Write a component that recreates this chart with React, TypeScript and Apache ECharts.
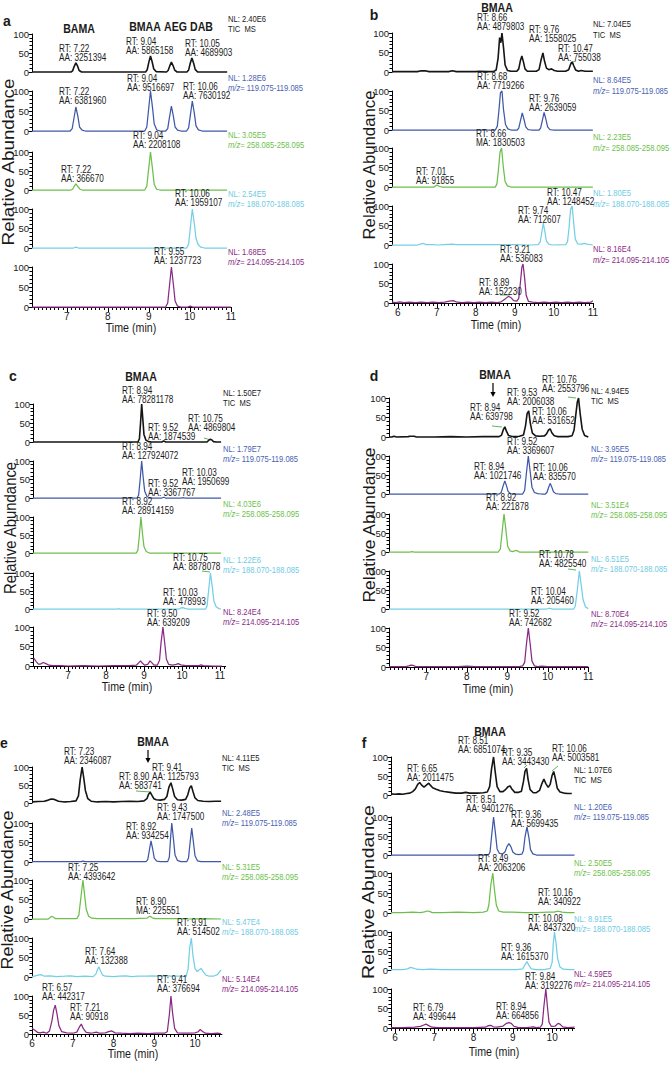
import React, { useEffect, useRef } from "react";
import * as echarts from "echarts";

// ---------------- data ----------------
const MZ = ["TIC  MS", "119.075-119.085", "258.085-258.095", "188.070-188.085", "214.095-214.105"];

// Panel a
const A_COMPOUNDS = ["BAMA", "BMAA", "AEG", "DAB"];
const A_NL = ["2.40E6", "1.28E6", "3.05E5", "2.54E5", "1.68E5"];
const A_XTICKS = [7, 8, 9, 10, 11];
const A_TIC = [[6.15,0],[7.1,0],[7.14,3],[7.18,15],[7.22,24],[7.26,16],[7.3,4],[7.36,0],[8.92,0],[8.96,6],[9.0,26],[9.04,42],[9.08,27],[9.12,8],[9.18,1],[9.43,0],[9.47,4],[9.51,16],[9.55,26],[9.59,17],[9.63,5],[9.69,0],[9.93,0],[9.97,5],[10.01,23],[10.05,37],[10.09,24],[10.13,7],[10.19,0],[10.91,0]];
const A_Q1 = [[6.15,0],[7.08,0],[7.13,6],[7.17,30],[7.22,60],[7.27,36],[7.31,10],[7.37,2],[7.45,0],[8.9,0],[8.95,10],[8.99,50],[9.04,100],[9.09,58],[9.13,18],[9.19,3],[9.27,0],[9.41,0],[9.46,6],[9.5,32],[9.55,62],[9.6,36],[9.64,10],[9.7,2],[9.78,0],[9.92,0],[9.97,8],[10.01,38],[10.06,75],[10.11,44],[10.15,13],[10.21,3],[10.3,0],[10.91,0]];
const A_Q2 = [[6.15,0],[7.1,0],[7.14,2],[7.18,10],[7.22,16],[7.27,9],[7.32,2],[7.38,0],[8.9,0],[8.95,10],[8.99,50],[9.04,100],[9.09,55],[9.13,15],[9.19,2],[9.27,0],[10.91,0]];
const A_Q3 = [[6.15,0],[7.16,0],[7.22,2],[7.28,0],[9.92,0],[9.97,10],[10.01,50],[10.06,100],[10.11,62],[10.15,25],[10.2,9],[10.27,2],[10.36,0],[10.91,0]];
const A_Q4 = [[6.15,0],[9.41,0],[9.46,10],[9.5,50],[9.55,100],[9.6,55],[9.64,15],[9.7,2],[9.78,0],[9.95,0],[10.01,2],[10.07,0],[11,0]];
const A_ANN = [
  [0,"7.22","AA","3251394"],[0,"9.04","AA","5865158"],[0,"10.05","AA","4689903"],
  [1,"9.04","AA","9516697"],[1,"7.22","AA","6381960"],[1,"10.06","AA","7630192"],
  [2,"9.04","AA","2208108"],[2,"7.22","AA","366670"],
  [3,"10.06","AA","1959107"],
  [4,"9.55","AA","1237723"],
];

// Panel b
const B_COMPOUNDS = ["BMAA"];
const B_NL = ["7.04E5", "8.64E5", "2.23E5", "1.80E5", "8.16E4"];
const B_XTICKS = [6, 7, 8, 9, 10, 11];
const B_TIC = [[5.85,1],[6.2,1],[6.5,1],[6.6,3],[6.7,3],[6.8,1],[7.3,1],[7.4,3],[7.5,1],[8.0,1],[8.1,2],[8.3,1],[8.45,1],[8.52,5],[8.57,35],[8.61,88],[8.64,75],[8.67,100],[8.71,62],[8.75,18],[8.81,4],[8.9,2],[9.05,2],[9.1,8],[9.14,28],[9.18,41],[9.22,26],[9.26,8],[9.32,2],[9.55,2],[9.62,6],[9.67,30],[9.72,49],[9.76,28],[9.81,10],[9.87,6],[9.94,8],[10.01,4],[10.1,2],[10.3,2],[10.38,6],[10.43,20],[10.47,26],[10.51,16],[10.56,5],[10.63,2],[10.7,4],[10.8,2],[11.0,2]];
const B_Q1 = [[5.85,0],[8.5,0],[8.55,10],[8.59,48],[8.63,95],[8.67,100],[8.71,52],[8.76,14],[8.82,3],[8.9,0],[9.06,0],[9.1,5],[9.14,22],[9.19,44],[9.24,25],[9.28,8],[9.34,1],[9.42,0],[9.62,0],[9.66,5],[9.7,22],[9.75,45],[9.8,26],[9.84,8],[9.9,1],[9.98,0],[11.0,0]];
const B_Q2 = [[5.85,0],[6.93,0],[6.97,3],[7.01,5],[7.06,2],[7.12,0],[8.5,0],[8.54,8],[8.58,45],[8.62,90],[8.66,100],[8.7,55],[8.75,14],[8.81,3],[8.9,0],[11,0]];
const B_Q3 = [[5.85,0],[6.5,0],[6.6,3],[6.66,4],[6.72,1],[6.9,1],[7.0,0],[7.2,1],[7.4,2],[7.5,1],[7.8,1],[8.2,1],[8.6,1],[9.0,1],[9.4,0],[9.6,1],[9.65,8],[9.69,32],[9.73,56],[9.77,34],[9.81,10],[9.87,2],[9.95,0],[10.3,1],[10.35,8],[10.39,45],[10.43,92],[10.47,100],[10.51,55],[10.55,15],[10.61,3],[10.7,2],[10.78,4],[10.85,2],[11.0,0]];
const B_Q4 = [[5.85,2],[5.95,1],[6.05,3],[6.15,1],[6.3,2],[6.45,1],[6.6,2],[6.75,1],[6.9,2],[7.05,1],[7.2,2],[7.32,5],[7.42,6],[7.52,2],[7.65,1],[7.8,2],[7.95,1],[8.1,2],[8.25,1],[8.4,2],[8.55,1],[8.65,3],[8.75,10],[8.83,17],[8.9,14],[8.97,6],[9.05,5],[9.1,12],[9.14,50],[9.18,92],[9.21,100],[9.25,65],[9.29,20],[9.35,4],[9.45,2],[9.6,1],[9.75,2],[9.9,1],[10.05,2],[10.2,1],[10.35,2],[10.5,1],[10.65,2],[10.8,1],[10.95,2],[11.0,6]];
const B_ANN = [
  [0,"8.66","AA","4879803"],[0,"9.76","AA","1558025"],[0,"10.47","AA","755038"],
  [1,"8.68","AA","7719266"],[1,"9.76","AA","2639059"],
  [2,"8.66","MA","1830503"],[2,"7.01","AA","91855"],
  [3,"10.47","AA","1248452"],[3,"9.74","AA","712607"],
  [4,"9.21","AA","536083"],[4,"8.89","AA","152230"],
];

// Panel c
const C_COMPOUNDS = ["BMAA"];
const C_NL = ["1.50E7", "1.79E7", "4.03E6", "1.22E6", "8.24E4"];
const C_XTICKS = [7, 8, 9, 10, 11];
const C_TIC = [[6.08,0],[8.84,0],[8.88,8],[8.91,50],[8.94,100],[8.97,60],[9.0,20],[9.05,5],[9.12,1],[9.2,0],[9.47,0],[9.52,3],[9.57,0],[10.66,0],[10.7,4],[10.74,7],[10.78,6],[10.83,1],[10.9,0],[11.03,0]];
const C_Q1 = [[6.08,0],[8.82,0],[8.86,8],[8.9,50],[8.94,100],[8.98,55],[9.02,18],[9.08,4],[9.16,0],[9.47,0],[9.52,2],[9.57,0],[9.98,0],[10.03,1],[10.08,0],[11.03,0]];
const C_Q2 = [[6.08,0],[8.8,0],[8.84,8],[8.88,50],[8.92,100],[8.96,55],[9.0,18],[9.06,4],[9.14,0],[11.03,0]];
const C_Q3 = [[6.08,0],[8.3,0],[8.33,1],[8.36,0],[9.92,0],[9.97,3],[10.02,4],[10.08,2],[10.15,0],[10.62,0],[10.66,8],[10.7,50],[10.75,100],[10.8,60],[10.84,22],[10.9,6],[10.97,1],[11.03,0]];
const C_Q4 = [[6.1,20],[6.16,12],[6.22,5],[6.28,5],[6.35,9],[6.42,6],[6.5,2],[6.6,1],[6.8,1],[7.0,0],[7.4,1],[7.8,0],[8.2,1],[8.6,1],[8.8,2],[8.86,8],[8.91,13],[8.96,7],[9.02,2],[9.1,4],[9.16,13],[9.21,8],[9.27,2],[9.35,2],[9.41,15],[9.45,60],[9.5,100],[9.55,55],[9.59,18],[9.65,4],[9.75,2],[9.85,4],[9.9,6],[9.97,3],[10.1,1],[10.3,1],[10.45,1],[10.5,3],[10.56,1],[10.8,0],[11.05,0]];
const C_ANN = [
  [0,"8.94","AA","78281178"],[0,"9.52","AA","1874539"],[0,"10.75","AA","4869804"],
  [1,"8.94","AA","127924072"],[1,"10.03","AA","1950699"],[1,"9.52","AA","3367767"],
  [2,"8.92","AA","28914159"],
  [3,"10.75","AA","8878078"],[3,"10.03","AA","478993"],
  [4,"9.50","AA","639209"],
];

// Panel d
const D_COMPOUNDS = ["BMAA"];
const D_NL = ["4.94E5", "3.95E5", "3.51E4", "6.51E5", "8.70E4"];
const D_XTICKS = [7, 8, 9, 10, 11];
const D_TIC = [[6.08,0],[6.15,0],[6.2,2],[6.27,0],[6.55,1],[6.6,2],[6.7,2],[6.76,0],[7.2,0],[7.6,1],[8.0,0],[8.4,1],[8.8,1],[8.86,5],[8.9,18],[8.94,26],[8.98,15],[9.03,4],[9.1,2],[9.2,1],[9.3,2],[9.4,5],[9.45,28],[9.49,60],[9.53,67],[9.57,35],[9.62,10],[9.7,3],[9.8,2],[9.92,3],[9.97,8],[10.02,18],[10.06,21],[10.1,11],[10.16,3],[10.25,1],[10.5,1],[10.6,3],[10.65,18],[10.69,55],[10.73,90],[10.76,100],[10.8,60],[10.85,20],[10.91,4],[11.0,0]];
const D_Q1 = [[6.08,0],[8.8,0],[8.85,4],[8.9,22],[8.94,34],[8.98,22],[9.02,7],[9.08,1],[9.16,0],[9.38,0],[9.43,10],[9.47,52],[9.52,100],[9.57,55],[9.61,18],[9.67,4],[9.75,1],[9.85,0],[9.94,0],[9.98,4],[10.02,17],[10.06,28],[10.1,18],[10.14,6],[10.2,1],[10.28,0],[11.0,0]];
const D_Q2 = [[6.08,0],[6.6,0],[6.65,1],[6.7,0],[8.78,0],[8.83,8],[8.87,50],[8.92,100],[8.97,55],[9.01,15],[9.07,3],[9.14,1],[9.2,4],[9.25,3],[9.3,0],[11.0,0]];
const D_Q3 = [[6.08,0],[9.97,0],[10.03,2],[10.08,1],[10.12,0],[10.64,0],[10.68,8],[10.73,50],[10.78,100],[10.83,60],[10.87,25],[10.93,6],[11.0,1]];
const D_Q4 = [[6.08,1],[6.3,1],[6.5,1],[6.57,3],[6.62,5],[6.68,4],[6.74,1],[6.9,1],[7.2,1],[7.5,1],[7.8,1],[8.0,2],[8.2,1],[8.5,1],[8.8,1],[9.1,1],[9.3,1],[9.38,3],[9.43,12],[9.47,55],[9.52,100],[9.57,55],[9.61,15],[9.67,3],[9.75,1],[9.85,2],[10.0,1],[10.3,1],[10.6,1],[11.0,1]];
const D_ANN = [
  [0,"8.94","AA","639798"],[0,"9.53","AA","2006038"],[0,"10.06","AA","531652"],[0,"10.76","AA","2553796"],
  [1,"9.52","AA","3369607"],[1,"8.94","AA","1021746"],[1,"10.06","AA","835570"],
  [2,"8.92","AA","221878"],
  [3,"10.78","AA","4825540"],[3,"10.04","AA","205460"],
  [4,"9.52","AA","742682"],
];

// Panel e
const E_COMPOUNDS = ["BMAA"];
const E_NL = ["4.11E5", "2.48E5", "5.31E5", "5.47E4", "5.14E4"];
const E_XTICKS = [6, 7, 8, 9, 10];
const E_TIC = [[6.0,3],[6.15,4],[6.3,5],[6.4,8],[6.47,11],[6.55,10],[6.65,5],[6.8,3],[6.95,4],[7.08,6],[7.14,20],[7.18,62],[7.23,100],[7.27,70],[7.31,35],[7.37,12],[7.45,5],[7.6,3],[7.8,4],[8.0,3],[8.2,4],[8.4,5],[8.6,4],[8.75,6],[8.82,12],[8.86,24],[8.9,30],[8.94,22],[8.99,12],[9.05,9],[9.15,8],[9.25,10],[9.31,18],[9.36,44],[9.41,56],[9.45,40],[9.5,18],[9.57,9],[9.67,8],[9.77,10],[9.82,22],[9.87,42],[9.91,48],[9.95,32],[10.0,14],[10.07,7],[10.2,5],[10.35,4],[10.5,5],[10.64,5]];
const E_Q1 = [[6.0,1],[7.2,1],[7.25,2],[7.3,1],[8.8,1],[8.84,6],[8.88,30],[8.92,54],[8.96,34],[9.0,10],[9.06,2],[9.15,1],[9.33,1],[9.37,12],[9.4,60],[9.43,100],[9.47,60],[9.51,18],[9.57,4],[9.65,1],[9.8,1],[9.84,10],[9.88,50],[9.92,87],[9.96,52],[10.0,16],[10.06,3],[10.15,1],[10.64,1]];
const E_Q2 = [[6.0,0],[6.4,0],[6.44,3],[6.48,7],[6.52,5],[6.58,1],[6.8,1],[7.1,1],[7.15,10],[7.2,55],[7.25,100],[7.29,62],[7.33,25],[7.39,7],[7.47,2],[7.6,1],[8.0,1],[8.5,1],[8.82,2],[8.87,6],[8.9,7],[8.95,3],[9.02,1],[9.5,1],[9.8,0],[10.2,1],[10.64,0]];
const E_Q3 = [[6.0,1],[6.08,3],[6.15,5],[6.22,6],[6.3,2],[6.45,3],[6.6,1],[6.8,2],[6.95,3],[7.1,1],[7.3,2],[7.5,1],[7.57,8],[7.61,20],[7.64,26],[7.68,16],[7.73,5],[7.8,2],[8.0,1],[8.15,2],[8.3,3],[8.45,1],[8.6,2],[8.8,2],[8.95,3],[9.1,2],[9.3,3],[9.5,2],[9.65,2],[9.78,1],[9.83,20],[9.87,75],[9.91,100],[9.95,55],[10.0,22],[10.05,14],[10.1,18],[10.15,22],[10.2,14],[10.27,5],[10.35,2],[10.45,2],[10.55,6],[10.64,18]];
const E_Q4 = [[6.0,15],[6.07,10],[6.14,4],[6.2,3],[6.28,5],[6.36,2],[6.43,8],[6.49,35],[6.53,62],[6.57,76],[6.61,55],[6.66,22],[6.73,6],[6.85,3],[7.0,2],[7.1,5],[7.16,18],[7.21,26],[7.26,14],[7.33,4],[7.45,2],[7.58,5],[7.66,2],[7.8,3],[7.9,7],[7.96,8],[8.04,3],[8.2,2],[8.4,1],[8.6,2],[8.85,1],[9.05,2],[9.25,2],[9.32,6],[9.37,50],[9.41,100],[9.45,55],[9.5,15],[9.57,3],[9.7,2],[9.85,2],[10.0,3],[10.08,6],[10.13,12],[10.18,7],[10.25,2],[10.4,1],[10.55,2],[10.64,1]];
const E_ANN = [
  [0,"7.23","AA","2346087"],[0,"9.41","AA","1125793"],[0,"8.90","AA","583741"],
  [1,"9.43","AA","1747500"],[1,"8.92","AA","934254"],
  [2,"7.25","AA","4393642"],[2,"8.90","MA","225551"],
  [3,"9.91","AA","514502"],[3,"7.64","AA","132388"],
  [4,"9.41","AA","376694"],[4,"6.57","AA","442317"],[4,"7.21","AA","90918"],
];

// Panel f
const F_COMPOUNDS = ["BMAA"];
const F_NL = ["1.07E6", "1.20E6", "2.50E5", "8.91E5", "4.59E5"];
const F_XTICKS = [6, 7, 8, 9, 10];
const F_TIC = [[5.9,3],[6.0,2],[6.1,3],[6.2,2],[6.3,4],[6.38,5],[6.45,9],[6.52,16],[6.58,28],[6.63,33],[6.68,26],[6.74,21],[6.8,26],[6.86,31],[6.9,26],[6.96,19],[7.05,15],[7.15,11],[7.25,9],[7.4,7],[7.55,5],[7.7,5],[7.8,7],[7.9,5],[8.1,5],[8.25,6],[8.35,8],[8.41,22],[8.46,70],[8.51,100],[8.55,62],[8.6,22],[8.67,9],[8.75,9],[8.82,15],[8.88,22],[8.93,24],[8.98,15],[9.05,7],[9.15,7],[9.22,10],[9.27,35],[9.31,62],[9.35,70],[9.39,40],[9.44,14],[9.52,6],[9.6,6],[9.68,12],[9.74,30],[9.79,42],[9.84,30],[9.9,20],[9.95,28],[10.0,52],[10.04,62],[10.08,45],[10.13,18],[10.2,8],[10.3,5],[10.4,4],[10.5,4]];
const F_Q1 = [[5.9,0],[8.38,0],[8.42,8],[8.46,50],[8.51,100],[8.56,55],[8.6,16],[8.66,4],[8.74,3],[8.8,8],[8.85,22],[8.9,30],[8.95,22],[9.0,8],[9.07,2],[9.15,1],[9.23,2],[9.27,12],[9.31,48],[9.36,74],[9.41,45],[9.45,14],[9.51,3],[9.6,0],[10.57,0]];
const F_Q2 = [[5.9,1],[6.2,1],[6.45,2],[6.65,1],[6.75,3],[6.82,5],[6.88,4],[6.95,1],[7.2,1],[7.6,2],[8.0,1],[8.25,2],[8.35,5],[8.39,20],[8.44,70],[8.49,100],[8.53,60],[8.58,20],[8.64,5],[8.75,2],[9.0,2],[9.3,1],[9.6,1],[9.9,2],[10.05,2],[10.12,4],[10.18,4],[10.25,2],[10.4,1],[10.57,1]];
const F_Q3 = [[5.9,1],[6.2,1],[6.32,3],[6.4,7],[6.47,5],[6.55,2],[6.7,1],[6.9,2],[7.2,1],[7.6,1],[8.0,1],[8.4,1],[8.8,1],[9.1,1],[9.25,3],[9.3,12],[9.36,22],[9.41,12],[9.47,3],[9.6,1],[9.8,1],[9.95,4],[10.0,20],[10.03,70],[10.06,100],[10.1,70],[10.14,30],[10.2,8],[10.28,2],[10.45,1],[10.57,1]];
const F_Q4 = [[5.9,1],[6.2,1],[6.5,2],[6.65,4],[6.72,7],[6.79,10],[6.86,6],[6.94,2],[7.1,1],[7.5,1],[8.0,1],[8.3,2],[8.38,6],[8.44,7],[8.5,3],[8.6,2],[8.75,5],[8.84,12],[8.9,14],[8.96,12],[9.03,4],[9.15,1],[9.35,1],[9.45,2],[9.52,3],[9.6,1],[9.7,2],[9.75,10],[9.79,55],[9.84,100],[9.88,55],[9.92,15],[9.98,4],[10.08,5],[10.15,12],[10.2,10],[10.27,3],[10.4,1],[10.57,2]];
const F_ANN = [
  [0,"8.51","AA","6851074"],[0,"9.35","AA","3443430"],[0,"10.06","AA","5003581"],[0,"6.65","AA","2011475"],
  [1,"8.51","AA","9401276"],[1,"9.36","AA","5699435"],
  [2,"8.49","AA","2063206"],[2,"10.16","AA","340922"],
  [3,"10.08","AA","8437320"],[3,"9.36","AA","1615370"],
  [4,"9.84","AA","3192276"],[4,"6.79","AA","499644"],[4,"8.94","AA","664856"],
];

// ---------------- layout & style ----------------
const FONT = "'Liberation Sans', Arial, Helvetica, sans-serif";
const COLORS = ["#151515", "#3f58a8", "#6cbf4b", "#74cfe6", "#8a2a85"];
const NL_COLORS = ["#1a1a1a", "#4a62b3", "#6cbf4b", "#6fcbe3", "#8a2a85"];
const LEADER = "#5cb85c";

const PANELS: any[] = [
  { letter: "a", traces: [A_TIC, A_Q1, A_Q2, A_Q3, A_Q4], nl: A_NL, ann: A_ANN, xTicks: A_XTICKS, compounds: A_COMPOUNDS,
    xMin: 6.15, xMax: 11, left: 32, ppm: 41,
    rows: [[34,72],[91,131],[152,190],[209,248],[267,307]],
    nlX: 228, nlY: [19,78,135,194,252], nlDy: 10,
    annPos: [[59,49],[126,42],[185,44],[127,79],[59,92],[183,87],[133,136],[61,170],[175,194],[154,252]],
    letterPos: [7,21], compPos: [[79,29],[145,27],[175.5,27],[201.5,27]], timePos: [131,328], ylab: [8,162,168],
    leaders: [], arrow: null },
  { letter: "b", traces: [B_TIC, B_Q1, B_Q2, B_Q3, B_Q4], nl: B_NL, ann: B_ANN, xTicks: B_XTICKS, compounds: B_COMPOUNDS,
    xMin: 5.85, xMax: 11, left: 392, ppm: 39,
    rows: [[33,72],[91,130],[148,187],[206,245],[264,303]],
    nlX: 593, nlY: [24,80,137,193,249], nlDy: 10.5,
    annPos: [[477,18],[529,30],[558,49],[477,77],[529,99],[476,134],[416,172],[547,193],[518,211],[500,250],[479,283]],
    letterPos: [374,15], compPos: [[497,8]], timePos: [496,325], ylab: [369,165,150],
    leaders: [[570,63,576,61],[500,295,510,295]], arrow: null },
  { letter: "c", traces: [C_TIC, C_Q1, C_Q2, C_Q3, C_Q4], nl: C_NL, ann: C_ANN, xTicks: C_XTICKS, compounds: C_COMPOUNDS,
    xMin: 6.08, xMax: 11.15, left: 33, ppm: 38,
    rows: [[404,442],[461,498],[517,553],[573,609],[627,666]],
    nlX: 223, nlY: [393,449,504,560,612], nlDy: 9.5,
    annPos: [[122,391],[148,428],[188,419],[122,447],[182,473],[148,484],[122,502],[173,558],[163,593],[147,614]],
    letterPos: [13,376], compPos: [[141,377]], timePos: [127,687], ylab: [10,528,133],
    leaders: [[204,438,211,440],[202,571,210,572]], arrow: null },
  { letter: "d", traces: [D_TIC, D_Q1, D_Q2, D_Q3, D_Q4], nl: D_NL, ann: D_ANN, xTicks: D_XTICKS, compounds: D_COMPOUNDS,
    xMin: 6.08, xMax: 11, left: 389, ppm: 40.5,
    rows: [[398,437],[456,494],[514,552],[571,609],[628,667]],
    nlX: 591, nlY: [391,449,505,559,614], nlDy: 10,
    annPos: [[470,408],[507,393],[532,412],[542,380],[507,442],[474,467],[533,468],[486,498],[539,555],[531,592],[509,614]],
    letterPos: [374,376], compPos: [[495,375]], timePos: [488,689], ylab: [370,525,156],
    leaders: [[492,426,502,427],[568,397,576,398],[568,569,576,570]], arrow: [493,383,397] },
  { letter: "e", traces: [E_TIC, E_Q1, E_Q2, E_Q3, E_Q4], nl: E_NL, ann: E_ANN, xTicks: E_XTICKS, compounds: E_COMPOUNDS,
    xMin: 6, xMax: 10.66, left: 32, ppm: 40.75,
    rows: [[767,803],[823,862],[880,919],[938,977],[996,1034]],
    nlX: 222, nlY: [758,813,867,922,979], nlDy: 9.5,
    annPos: [[64,752],[152,768],[119,777],[157,808],[126,827],[68,868],[136,902],[177,923],[85,952],[157,980],[42,988],[70,1008]],
    letterPos: [4,743], compPos: [[153,742]], timePos: [133,1054], ylab: [8,890,160],
    leaders: [[136,791,151,792]], arrow: [148,750,763] },
  { letter: "f", traces: [F_TIC, F_Q1, F_Q2, F_Q3, F_Q4], nl: F_NL, ann: F_ANN, xTicks: F_XTICKS, compounds: F_COMPOUNDS,
    xMin: 5.9, xMax: 10.57, left: 391, ppm: 39.3,
    rows: [[757,795],[817,855],[873,913],[932,970],[989,1028]],
    nlX: 574, nlY: [770,807,863,919,974], nlDy: 10,
    annPos: [[458,741],[502,753],[552,749],[407,769],[466,800],[511,815],[478,859],[538,893],[528,919],[501,948],[525,977],[413,1008],[496,1007]],
    letterPos: [364,743], compPos: [[490,732]], timePos: [494,1052], ylab: [369,892,175],
    leaders: [[524,768,527,765],[552,771,558,766]], arrow: null },
];

function buildOption() {
  const grid: any[] = [], xAxis: any[] = [], yAxis: any[] = [], series: any[] = [], graphic: any[] = [];

  const text = (x: number, y: number, t: string, o: any = {}) => {
    graphic.push({
      type: "text", x, y, scaleX: o.sx ?? 1, rotation: o.rot ?? 0, silent: true, z: 10,
      style: {
        text: t, fill: o.fill ?? "#1a1a1a", fontSize: o.size ?? 10, fontFamily: FONT,
        fontWeight: o.weight ?? "normal", align: o.align ?? "left", verticalAlign: "middle",
        lineHeight: o.lh, rich: o.rich,
      },
    });
  };

  // an extra grid that only carries ticks (and optionally labels) on a sub-range of the time axis
  const tickGrid = (p: any, top: number, h: number, min: number, max: number, interval: number, len: number, labels: boolean) => {
    const g = grid.length;
    grid.push({ left: p.left + (min - p.xMin) * p.ppm, top, width: (max - min) * p.ppm, height: h });
    xAxis.push({
      type: "value", gridIndex: g, min, max, interval,
      axisLine: { show: true, onZero: false, lineStyle: { color: "#000", width: 1 } },
      axisTick: { show: true, length: len, lineStyle: { color: "#000", width: 1 } },
      axisLabel: { show: labels, fontSize: 10, margin: 4, color: "#1a1a1a", fontFamily: FONT },
      splitLine: { show: false },
    });
    yAxis.push({ type: "value", gridIndex: g, min: 0, max: 100, show: false });
  };

  PANELS.forEach((p) => {
    const width = (p.xMax - p.xMin) * p.ppm;
    p.rows.forEach(([top, bottom]: number[], ri: number) => {
      const isBottom = ri === 4;
      const gi = grid.length;
      grid.push({ left: p.left, top, width, height: bottom - top });
      const xi = xAxis.length;
      xAxis.push({
        type: "value", gridIndex: gi, min: p.xMin, max: p.xMax, show: isBottom,
        axisLine: { show: isBottom, onZero: false, lineStyle: { color: "#000", width: 1 } },
        axisTick: { show: false }, axisLabel: { show: false }, splitLine: { show: false },
      });
      const yi = yAxis.length;
      yAxis.push({
        type: "value", gridIndex: gi, min: 0, max: 100, interval: 50,
        axisLine: { show: true, lineStyle: { color: "#000", width: 1 } },
        axisTick: { show: true, length: 3.5, lineStyle: { color: "#000" } },
        minorTick: { show: true, splitNumber: 5, length: 2.5, lineStyle: { color: "#000", width: 1 } },
        axisLabel: { fontSize: 9.5, margin: 3, color: "#1a1a1a", fontFamily: FONT },
        splitLine: { show: false }, minorSplitLine: { show: false },
      });
      series.push({
        type: "line", xAxisIndex: xi, yAxisIndex: yi, data: p.traces[ri], symbol: "none", smooth: false,
        clip: false, silent: true, animation: false,
        lineStyle: { color: COLORS[ri], width: ri === 0 ? 1.6 : 1.25 },
      });
      if (isBottom) {
        const t0 = p.xTicks[0], t1 = p.xTicks[p.xTicks.length - 1];
        tickGrid(p, top, bottom - top, t0, t1, 1, 5, true);
        const m0 = Math.ceil(p.xMin * 10 - 1e-6) / 10, m1 = Math.floor(p.xMax * 10 + 1e-6) / 10;
        tickGrid(p, top, bottom - top, m0, m1, 0.1, 3, false);
      }
      // NL labels
      const nlc = NL_COLORS[ri];
      text(p.nlX, p.nlY[ri], `NL: ${p.nl[ri]}`, { size: 9.5, sx: 0.8, fill: nlc });
      if (ri === 0) {
        text(p.nlX, p.nlY[ri] + p.nlDy, MZ[0], { size: 9.5, sx: 0.8, fill: nlc });
      } else {
        text(p.nlX, p.nlY[ri] + p.nlDy, `{i|m/z}= ${MZ[ri]}`, {
          size: 9.5, sx: 0.8, fill: nlc,
          rich: { i: { fontStyle: "italic", fontSize: 9.5, fontFamily: FONT, fill: nlc } },
        });
      }
    });

    // peak annotations
    p.ann.forEach((a: any[], i: number) => {
      const [x, y1] = p.annPos[i];
      text(x, y1 + 4.35, `RT: ${a[1]}\n${a[2]}: ${a[3]}`, { size: 10, sx: 0.82, lh: 8.7 });
    });
    // panel letter, compound names, axis titles
    text(p.letterPos[0], p.letterPos[1], p.letter, { size: 14, weight: "bold", align: "center" });
    p.compounds.forEach((c: string, i: number) => {
      text(p.compPos[i][0], p.compPos[i][1], c, { size: 12, sx: 0.88, weight: "bold", align: "center" });
    });
    text(p.timePos[0], p.timePos[1], "Time (min)", { size: 13, sx: 0.82, align: "center" });
    text(p.ylab[0], p.ylab[1], "Relative Abundance", { size: 16, sx: p.ylab[2] / 143.2, rot: Math.PI / 2, align: "center" });
    // short green integration leader lines
    p.leaders.forEach((l: number[]) => {
      graphic.push({ type: "line", silent: true, shape: { x1: l[0], y1: l[1], x2: l[2], y2: l[3] }, style: { stroke: LEADER, lineWidth: 1 } });
    });
    if (p.arrow) {
      const [ax, ay1, ay2] = p.arrow;
      graphic.push({ type: "line", silent: true, shape: { x1: ax, y1: ay1, x2: ax, y2: ay2 - 4 }, style: { stroke: "#000", lineWidth: 1.2 } });
      graphic.push({ type: "polygon", silent: true, shape: { points: [[ax - 2.6, ay2 - 5], [ax + 2.6, ay2 - 5], [ax, ay2]] }, style: { fill: "#000" } });
    }
  });

  return { animation: false, backgroundColor: "#ffffff", grid, xAxis, yAxis, series, graphic };
}

export default function App() {
  const ref = useRef<HTMLDivElement>(null);
  useEffect(() => {
    if (!ref.current) return;
    const chart = echarts.init(ref.current, undefined, { renderer: "svg" });
    chart.setOption(buildOption() as any);
    return () => chart.dispose();
  }, []);
  return (
    <div
      ref={ref}
      style={{ position: "absolute", left: 0, top: 0, width: 671, height: 1066, background: "#fff" }}
    />
  );
}
